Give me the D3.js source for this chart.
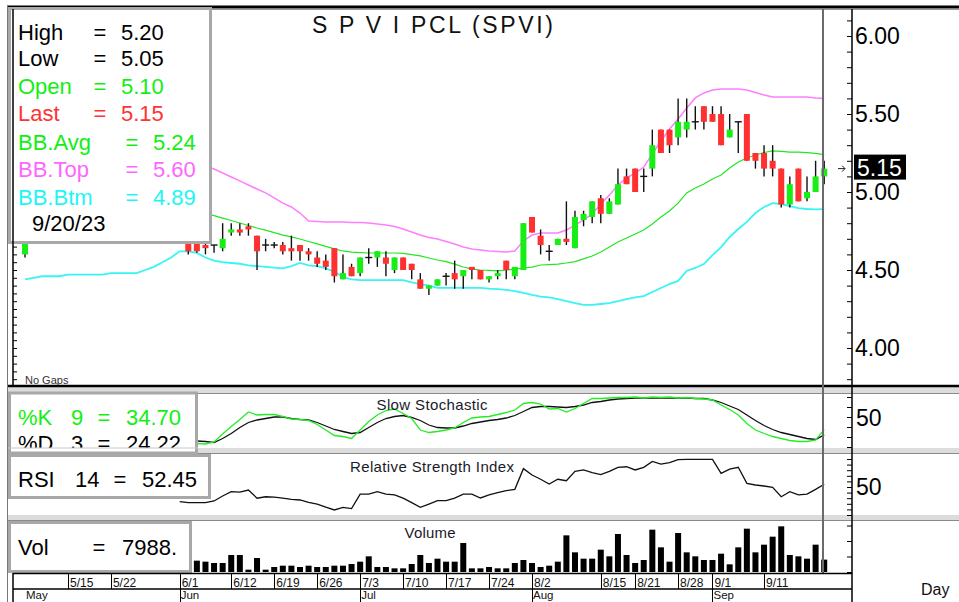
<!DOCTYPE html>
<html>
<head>
<meta charset="utf-8">
<style>
  body { margin: 0; background: #fff; }
  svg { display: block; font-family: "Liberation Sans", Arial, sans-serif; }
  .axis path { display: none; }
  .axis line { stroke: #000; }
</style>
<script src="https://cdn.jsdelivr.net/npm/d3@7"></script>
</head>
<body>
<script>
// trading days shown on the chart (2023, Thai exchange calendar)
const dates = [
  "5/8","5/9","5/10","5/11","5/12","5/15","5/16","5/17","5/18","5/19",
  "5/22","5/23","5/24","5/25","5/26","5/29","5/30","5/31","6/1","6/2",
  "6/6","6/7","6/8","6/9","6/12","6/13","6/14","6/15","6/16","6/19",
  "6/20","6/21","6/22","6/23","6/26","6/27","6/28","6/29","6/30","7/3",
  "7/4","7/5","7/6","7/7","7/10","7/11","7/12","7/13","7/14","7/17",
  "7/18","7/19","7/20","7/21","7/24","7/25","7/26","7/27","7/31","8/2",
  "8/3","8/4","8/7","8/8","8/9","8/10","8/11","8/15","8/16","8/17",
  "8/18","8/21","8/22","8/23","8/24","8/25","8/28","8/29","8/30","8/31",
  "9/1","9/4","9/5","9/6","9/7","9/8","9/11","9/12","9/13","9/14",
  "9/15","9/18","9/19","9/20"
];

const opens = [
  4.60,4.76,4.84,4.88,4.94,4.88,4.90,4.96,4.92,4.88,
  4.86,4.82,4.84,4.80,4.78,4.76,4.74,4.72,4.70,4.68,
  4.67,4.66,4.66,4.64,4.74,4.76,4.78,4.72,4.66,4.66,
  4.66,4.64,4.66,4.62,4.58,4.56,4.64,4.44,4.52,4.48,
  4.58,4.58,4.58,4.50,4.58,4.54,4.44,4.38,4.40,4.46,
  4.48,4.46,4.52,4.50,4.44,4.46,4.56,4.46,4.50,4.84,
  4.72,4.62,4.66,4.70,4.64,4.82,4.84,4.96,4.86,4.92,
  5.10,5.15,5.10,5.15,5.40,5.40,5.35,5.40,5.45,5.55,
  5.50,5.50,5.35,5.45,5.50,5.25,5.25,5.20,5.15,4.92,
  5.15,4.96,5.00,5.10
];
const highs = [
  4.80,4.86,4.92,4.96,4.98,4.94,5.00,5.00,4.96,4.92,
  4.90,4.88,4.86,4.84,4.82,4.80,4.78,4.74,4.74,4.70,
  4.70,4.68,4.66,4.80,4.80,4.80,4.80,4.72,4.70,4.68,
  4.68,4.72,4.66,4.64,4.62,4.60,4.64,4.60,4.54,4.58,
  4.64,4.62,4.62,4.58,4.58,4.54,4.48,4.40,4.44,4.48,
  4.56,4.50,4.52,4.50,4.46,4.50,4.56,4.52,4.80,4.84,
  4.76,4.66,4.70,4.94,4.88,4.88,4.94,4.98,4.96,5.15,
  5.15,5.15,5.15,5.40,5.40,5.40,5.60,5.60,5.55,5.55,
  5.55,5.55,5.50,5.45,5.50,5.25,5.30,5.30,5.15,5.10,
  5.15,5.10,5.20,5.20
];
const lows = [
  4.58,4.74,4.80,4.84,4.86,4.84,4.88,4.90,4.86,4.82,
  4.80,4.80,4.78,4.76,4.74,4.72,4.70,4.70,4.68,4.60,
  4.61,4.60,4.61,4.62,4.72,4.72,4.72,4.50,4.62,4.64,
  4.60,4.56,4.56,4.56,4.52,4.50,4.42,4.44,4.46,4.46,
  4.54,4.52,4.46,4.48,4.50,4.44,4.38,4.34,4.40,4.40,
  4.38,4.38,4.44,4.44,4.42,4.44,4.44,4.44,4.50,4.74,
  4.60,4.56,4.66,4.66,4.64,4.78,4.80,4.80,4.86,4.92,
  5.05,5.00,5.00,5.10,5.25,5.25,5.30,5.35,5.40,5.40,
  5.45,5.30,5.35,5.25,5.20,5.15,5.10,5.10,4.90,4.90,
  4.94,4.94,5.00,5.05
];
const closes = [
  4.76,4.84,4.88,4.94,4.88,4.90,4.96,4.92,4.88,4.86,
  4.82,4.84,4.80,4.78,4.76,4.74,4.72,4.70,4.68,4.62,
  4.62,4.64,4.66,4.70,4.76,4.74,4.76,4.62,4.66,4.66,
  4.62,4.62,4.62,4.60,4.54,4.52,4.46,4.48,4.46,4.58,
  4.58,4.62,4.54,4.58,4.50,4.50,4.38,4.40,4.44,4.46,
  4.44,4.50,4.50,4.44,4.46,4.48,4.50,4.52,4.80,4.74,
  4.66,4.62,4.70,4.68,4.84,4.86,4.94,4.86,4.94,5.05,
  5.05,5.00,5.10,5.30,5.25,5.30,5.45,5.45,5.45,5.45,
  5.45,5.30,5.40,5.45,5.20,5.20,5.15,5.15,4.92,5.05,
  4.94,5.00,5.10,5.15
];
const volumes = [
  12000,9000,8000,10000,7000,6000,8000,9000,5000,7000,
  6000,5000,8000,6000,7000,5000,6000,9000,7000,6000,
  7310,6665,5805,5805,10965,10965,1505,9030,1505,3225,
  4085,4085,3225,4085,3225,3225,4085,4085,5160,6665,
  10105,3225,3225,2365,2365,5160,10965,5805,8600,6665,
  6665,18705,2365,2365,3225,2365,2365,5805,7740,5805,
  3225,4085,6665,23650,12685,8600,8600,14405,10105,24510,
  10965,5805,7740,27305,15910,6665,25155,12685,10105,7740,
  7740,11825,4945,15910,27950,12685,17630,22790,29455,10965,
  10105,8600,17630,7988
];

// Bollinger bands
const bbTop = [
  5.46,5.45,5.46,5.46,5.46,5.47,5.47,5.47,5.47,5.46,
  5.44,5.42,5.40,5.38,5.36,5.33,5.30,5.27,5.24,5.22,
  5.192,5.167,5.147,5.122,5.096,5.071,5.045,5.019,4.994,4.962,
  4.929,4.904,4.865,4.814,4.811,4.808,4.808,4.808,4.804,4.804,
  4.801,4.795,4.788,4.779,4.763,4.744,4.724,4.708,4.699,4.683,
  4.667,4.647,4.635,4.628,4.622,4.619,4.615,4.622,4.686,4.724,
  4.737,4.737,4.737,4.756,4.788,4.821,4.859,4.923,4.98,5.045,
  5.09,5.12,5.16,5.244,5.327,5.404,5.468,5.538,5.603,5.635,
  5.654,5.66,5.66,5.66,5.654,5.638,5.622,5.609,5.609,5.609,
  5.609,5.609,5.603,5.60
];
const bbAvg = [
  4.95,4.95,4.96,4.96,4.96,4.97,4.97,4.97,4.97,4.96,
  4.96,4.95,4.94,4.93,4.92,4.91,4.90,4.90,4.89,4.885,
  4.878,4.865,4.849,4.833,4.817,4.801,4.785,4.769,4.756,4.740,
  4.724,4.712,4.699,4.683,4.667,4.651,4.635,4.622,4.615,4.612,
  4.609,4.609,4.609,4.609,4.606,4.599,4.590,4.577,4.564,4.554,
  4.538,4.519,4.506,4.500,4.497,4.494,4.500,4.506,4.513,4.519,
  4.532,4.535,4.538,4.545,4.554,4.571,4.590,4.615,4.647,4.679,
  4.705,4.731,4.756,4.795,4.840,4.878,4.929,4.994,5.026,5.051,
  5.083,5.109,5.154,5.192,5.218,5.237,5.253,5.263,5.260,5.256,
  5.256,5.253,5.247,5.24
];
const bbBtm = [
  4.44,4.45,4.46,4.46,4.46,4.47,4.47,4.47,4.47,4.47,
  4.48,4.48,4.48,4.48,4.50,4.52,4.55,4.58,4.62,4.62,
  4.61,4.58,4.56,4.55,4.545,4.54,4.53,4.525,4.52,4.515,
  4.51,4.525,4.545,4.53,4.525,4.51,4.49,4.455,4.44,4.435,
  4.435,4.435,4.435,4.435,4.435,4.42,4.41,4.40,4.385,4.385,
  4.385,4.385,4.385,4.385,4.38,4.378,4.372,4.365,4.353,4.34,
  4.33,4.324,4.314,4.30,4.288,4.276,4.276,4.282,4.288,4.30,
  4.314,4.324,4.333,4.359,4.385,4.41,4.43,4.494,4.513,4.538,
  4.596,4.647,4.712,4.763,4.808,4.865,4.904,4.929,4.923,4.91,
  4.897,4.891,4.888,4.89
];

// slow stochastic, from 6/2
const stochStart = "6/2";
const stochK = [
  7,6.7,6,10,26,41,55,70,64,65,65,61,56,55,53,45,34,23,21,17,34,
  51,64,73,76,67,57,34,29,31,34,38,49,58,60,61,65,69,74,87,89,
  86,76,77,70,77,87,97,97,98,99,99,100,98,100,99,100,98,99,97,96,
  94,84,75,64,47,34,27,21,17,13,11,11,14,34.70
];
const stochD = [
  12,12,11,9,17,27,39,49,54,57,60,60,57,55,54,49,42,35,31,27,29,
  39,49,57,61,63,59,53,44,39,38,38,42,47,50,53,55,58,63,71,79,
  81,81,80,79,81,84,89,91,94,96,97,98,98,98,98,98,98,98,97,97,
  94,89,82,75,64,53,43,35,29,25,21,17,15,24.22
];

// RSI 14, from 6/1
const rsiStart = "6/1";
const rsi = [
  37,36,36,36,37.5,42,45.8,45.5,47.3,40,41.3,41,40,39,38.4,36.3,34.8,
  32,29.5,31.8,30.7,43.7,43.7,45.8,43.7,42.9,40,36,31.8,34.8,37.8,37.8,
  40,43.7,43.7,40.2,42.9,44.9,46.7,47.9,66.4,60.7,56.9,52.7,56.9,55.6,64,
  65.2,62.8,61,64,67.6,68.1,65.2,67.6,72.9,70.5,71.7,74.4,74.7,74.7,74.7,
  74.7,62.2,66,67.6,53.3,51.8,50.9,49.7,41.3,45.8,42.9,43.7,47.9,52.45
];

const weekTicks = ["5/15","5/22","6/1","6/12","6/19","6/26","7/3","7/10","7/17","7/24",
                   "8/2","8/15","8/21","8/28","9/1","9/11"];
const monthTicks = ["5/8","6/1","7/3","8/2","9/1"];
const monthNames = ["May","Jun","Jul","Aug","Sep"];
const priceLabels = [4.00, 4.50, 5.00, 5.50, 6.00];

const width = 959, height = 602;
const last = dates.length - 1;
const GREEN = "#16ee16", RED = "#ff3030";

const svg = d3.select('body').append('svg')
  .attr('width', width).attr('height', height);

svg.append('rect').attr('width', width).attr('height', height).attr('fill', '#fff');

const x = d3.scaleLinear().domain([0, last]).range([25, 824.2]);
const y = d3.scaleLinear().domain([4, 6]).range([348, 36]);
const yStoch = d3.scaleLinear().domain([0, 100]).range([447, 397]);
const yRsi = d3.scaleLinear().domain([25, 75]).range([515, 459]);
const yVol = d3.scaleLinear().domain([0, 30000]).range([572, 525.5]);

const defs = svg.append('defs');
const clip = (id, x0, y0, w, h) => defs.append('clipPath').attr('id', id)
  .append('rect').attr('x', x0).attr('y', y0).attr('width', w).attr('height', h);
clip('cPrice', 14, 10, 837, 375);
clip('cStoch', 14, 394, 837, 54);
clip('cRsi', 14, 454, 837, 61);
clip('cVol', 14, 521, 837, 52);
clip('cStochBox', 8, 392, 190, 56);

// ---- panel frame ----
const frame = svg.append('g');
const hline = (yy, col, w) => frame.append('line')
  .attr('x1', 7).attr('x2', width).attr('y1', yy).attr('y2', yy)
  .attr('stroke', col).attr('stroke-width', w);
frame.append('rect').attr('x', 7).attr('y', 387).attr('width', width).attr('height', 6).attr('fill', '#dcdcdc');
frame.append('rect').attr('x', 7).attr('y', 448).attr('width', width).attr('height', 5).attr('fill', '#dcdcdc');
frame.append('rect').attr('x', 7).attr('y', 515).attr('width', width).attr('height', 5).attr('fill', '#dcdcdc');
hline(7, '#000', 3);
hline(9.5, '#999', 1);
hline(386, '#000', 2.5);
hline(393.5, '#8a8a8a', 1.2);
hline(453.5, '#8a8a8a', 1.2);
hline(520.5, '#8a8a8a', 1.2);
frame.append('line').attr('x1', 7.5).attr('x2', 7.5).attr('y1', 6).attr('y2', height)
  .attr('stroke', '#777').attr('stroke-width', 1);

// ---- Bollinger bands ----
const priceG = svg.append('g').attr('clip-path', 'url(#cPrice)');
const bandLine = arr => d3.line().x((d, i) => x(i)).y(d => y(d))(arr);
priceG.append('path').attr('d', bandLine(bbTop)).attr('fill', 'none').attr('stroke', '#ff7dff').attr('stroke-width', 1.5);
priceG.append('path').attr('d', bandLine(bbAvg)).attr('fill', 'none').attr('stroke', '#22e622').attr('stroke-width', 1.2);
priceG.append('path').attr('d', bandLine(bbBtm)).attr('fill', 'none').attr('stroke', '#38f4f4').attr('stroke-width', 1.8);

// ---- candles ----
const candles = dates.map((d, i) => ({ i, o: opens[i], h: highs[i], l: lows[i], c: closes[i] }));
const cg = priceG.selectAll('g.candle').data(candles).join('g').attr('class', 'candle');
cg.append('line')
  .attr('x1', d => x(d.i)).attr('x2', d => x(d.i))
  .attr('y1', d => y(d.h)).attr('y2', d => y(d.l))
  .attr('stroke', '#111').attr('stroke-width', 1.4);
cg.filter(d => d.o !== d.c).append('rect')
  .attr('x', d => x(d.i) - 3).attr('width', 6)
  .attr('y', d => y(Math.max(d.o, d.c)))
  .attr('height', d => Math.abs(y(d.o) - y(d.c)))
  .attr('fill', d => d.c > d.o ? GREEN : RED);
cg.filter(d => d.o === d.c).append('line')
  .attr('x1', d => x(d.i) - 3.5).attr('x2', d => x(d.i) + 3.5)
  .attr('y1', d => y(d.o)).attr('y2', d => y(d.o))
  .attr('stroke', '#111').attr('stroke-width', 1.4);

priceG.append('text').attr('x', 25).attr('y', 384).attr('font-size', 11).attr('fill', '#333').text('No Gaps');

// ---- slow stochastic ----
const s0 = dates.indexOf(stochStart);
const stochG = svg.append('g').attr('clip-path', 'url(#cStoch)');
const stLine = d3.line().x((d, j) => x(s0 + j)).y(d => yStoch(d));
stochG.append('path').attr('d', stLine(stochD)).attr('fill', 'none').attr('stroke', '#111').attr('stroke-width', 1.3);
stochG.append('path').attr('d', stLine(stochK)).attr('fill', 'none').attr('stroke', '#22ee22').attr('stroke-width', 1.3);

// ---- RSI ----
const r0 = dates.indexOf(rsiStart);
const rsiG = svg.append('g').attr('clip-path', 'url(#cRsi)');
rsiG.append('path')
  .attr('d', d3.line().x((d, j) => x(r0 + j)).y(d => yRsi(d))(rsi))
  .attr('fill', 'none').attr('stroke', '#111').attr('stroke-width', 1.3);

// ---- volume ----
const volG = svg.append('g').attr('clip-path', 'url(#cVol)');
volG.selectAll('rect').data(volumes).join('rect')
  .attr('x', (d, i) => x(i) - 3).attr('width', 6)
  .attr('y', d => yVol(d)).attr('height', d => yVol(0) - yVol(d))
  .attr('fill', '#000');

// panel titles
const title = (t, cx, by, len) => svg.append('text')
  .attr('x', cx - len / 2).attr('y', by).attr('font-size', 15)
  .attr('textLength', len).attr('lengthAdjust', 'spacing').attr('fill', '#1a1a2a').text(t);
title('Slow Stochastic', 432, 410, 111);
title('Relative Strength Index', 432, 472, 164);
title('Volume', 430, 538, 51);

svg.append('text').attr('x', 312).attr('y', 33).attr('font-size', 23)
  .attr('textLength', 241).attr('lengthAdjust', 'spacing')
  .attr('fill', '#111').text('S P V I PCL (SPVI)');

// current-date marker line
svg.append('line').attr('x1', 823).attr('x2', 823).attr('y1', 9).attr('y2', 573)
  .attr('stroke', '#6a6a6a').attr('stroke-width', 2);

// ---- legend boxes ----
const box = (x0, y0, w, h) => svg.append('rect').attr('x', x0).attr('y', y0)
  .attr('width', w).attr('height', h).attr('fill', '#fff')
  .attr('stroke', '#a8a8a8').attr('stroke-width', 3);
const txt = (g, tx, ty, t, col, anchor) => g.append('text')
  .attr('x', tx).attr('y', ty).attr('font-size', 22)
  .attr('fill', col).attr('text-anchor', anchor || 'start').text(t);

box(9.5, 8.5, 201, 234);
const info = svg.append('g');
const infoRows = [
  ['High', highs[last], '#000', 100, 121],
  ['Low', lows[last], '#000', 100, 121],
  ['Open', opens[last], '#11f011', 100, 121],
  ['Last', closes[last], '#ff3333', 100, 121],
  ['BB.Avg', bbAvg[last], '#11f011', 132, 153],
  ['BB.Top', bbTop[last], '#ff66ff', 132, 153],
  ['BB.Btm', bbBtm[last], '#1ef6f6', 132, 153]
];
const infoBase = [40, 66, 94, 121, 150, 177, 205];
infoRows.forEach((r, k) => {
  txt(info, 18, infoBase[k], r[0], r[2]);
  txt(info, r[3], infoBase[k], '=', r[2], 'middle');
  txt(info, r[4], infoBase[k], r[1].toFixed(2), r[2]);
});
txt(info, 32, 231, dates[last] + '/23', '#000');

box(9.5, 393, 187, 60);
const sb = svg.append('g').attr('clip-path', 'url(#cStochBox)');
txt(sb, 18, 425, '%K', '#11f011'); txt(sb, 71, 425, '9', '#11f011');
txt(sb, 104, 425, '=', '#11f011', 'middle'); txt(sb, 126, 425, stochK[stochK.length - 1].toFixed(2), '#11f011');
txt(sb, 18, 451, '%D', '#000'); txt(sb, 71, 451, '3', '#000');
txt(sb, 104, 451, '=', '#000', 'middle'); txt(sb, 126, 451, stochD[stochD.length - 1].toFixed(2), '#000');
svg.append('line').attr('x1', 8).attr('x2', 198).attr('y1', 448).attr('y2', 448).attr('stroke', '#c8c8c8').attr('stroke-width', 1);

box(9.5, 455.5, 200, 42);
const rb = svg.append('g');
txt(rb, 18, 487, 'RSI', '#000'); txt(rb, 75, 487, '14', '#000');
txt(rb, 120, 487, '=', '#000', 'middle'); txt(rb, 142, 487, rsi[rsi.length - 1].toFixed(2), '#000');

box(9.5, 522.5, 181, 49);
const vb = svg.append('g');
txt(vb, 18, 555, 'Vol', '#000');
txt(vb, 99, 555, '=', '#000', 'middle');
txt(vb, 122, 555, volumes[last] + '.', '#000');

// ---- left price axis ----
svg.append('line').attr('x1', 13).attr('x2', 13).attr('y1', 9).attr('y2', 386).attr('stroke', '#000').attr('stroke-width', 1.5);
svg.append('g').attr('class', 'axis left').attr('transform', 'translate(13,0)')
  .call(d3.axisRight(y).tickValues(d3.range(3.8, 6.16, 0.05)).tickSize(4).tickFormat(''));
svg.selectAll('.left .tick').filter(d => y(d) < 243 || y(d) > 385).remove();

// ---- right axes ----
svg.append('line').attr('x1', 852).attr('x2', 852).attr('y1', 9).attr('y2', height).attr('stroke', '#000').attr('stroke-width', 1.5);
const rightTicks = (scale, values) => svg.append('g').attr('class', 'axis').attr('transform', 'translate(852,0)')
  .call(d3.axisRight(scale).tickValues(values).tickSizeInner(-5).tickSizeOuter(0).tickFormat(''));
rightTicks(y, d3.range(3.8, 6.16, 0.1));
rightTicks(yStoch, [0, 20, 40, 60, 80, 100]);
rightTicks(yRsi, d3.range(25, 76, 5));
rightTicks(yVol, [0, 10000, 20000, 30000]);

svg.append('g').attr('class', 'axis').attr('transform', 'translate(852,0)')
  .call(d3.axisRight(y).tickValues(priceLabels).tickSize(0).tickPadding(3).tickFormat(d3.format('.2f')))
  .selectAll('text').attr('font-size', 23).attr('font-family', '"Liberation Sans", Arial, sans-serif').attr('fill', '#000');

const fifty = (yy) => svg.append('text').attr('x', 856).attr('y', yy).attr('dy', '0.35em')
  .attr('font-size', 23).attr('fill', '#000').text('50');
fifty(yStoch(50) - 4);
fifty(yRsi(50));

// last price tag
const lastY = y(closes[last]);
svg.append('rect').attr('x', 854).attr('y', lastY - 14).attr('width', 52).attr('height', 25).attr('fill', '#000');
svg.append('text').attr('x', 857).attr('y', lastY - 1).attr('dy', '0.36em').attr('font-size', 23)
  .attr('fill', '#fff').text(closes[last].toFixed(2));
svg.append('path').attr('d', `M838,${lastY}h7m-3,-3l3,3l-3,3`).attr('fill', 'none').attr('stroke', '#222').attr('stroke-width', 1);

// ---- date axis ----
const dax = svg.append('g');
dax.append('line').attr('x1', 13).attr('x2', 852).attr('y1', 573.5).attr('y2', 573.5).attr('stroke', '#000').attr('stroke-width', 1.5);
dax.append('line').attr('x1', 13).attr('x2', 852).attr('y1', 589).attr('y2', 589).attr('stroke', '#000').attr('stroke-width', 1.5);
dax.append('line').attr('x1', 13).attr('x2', 13).attr('y1', 573).attr('y2', height).attr('stroke', '#000').attr('stroke-width', 1.5);
dax.selectAll('line.wk').data(weekTicks).join('line').attr('class', 'wk')
  .attr('x1', d => Math.round(x(dates.indexOf(d))) + 0.5).attr('x2', d => Math.round(x(dates.indexOf(d))) + 0.5)
  .attr('y1', 574).attr('y2', 589).attr('stroke', '#000');
dax.selectAll('text.wk').data(weekTicks).join('text').attr('class', 'wk')
  .attr('x', d => x(dates.indexOf(d)) + 2).attr('y', 587)
  .attr('font-size', 12).attr('fill', '#111').text(d => d);
dax.selectAll('line.mo').data(monthTicks.slice(1)).join('line').attr('class', 'mo')
  .attr('x1', d => Math.round(x(dates.indexOf(d))) + 0.5).attr('x2', d => Math.round(x(dates.indexOf(d))) + 0.5)
  .attr('y1', 589).attr('y2', height).attr('stroke', '#000');
dax.selectAll('text.mo').data(monthTicks).join('text').attr('class', 'mo')
  .attr('x', d => x(dates.indexOf(d)) + 1).attr('y', 599)
  .attr('font-size', 11.5).attr('fill', '#111').text((d, k) => monthNames[k]);

svg.append('text').attr('x', 921).attr('y', 595).attr('font-size', 16).attr('fill', '#111').text('Day');
</script>
</body>
</html>
